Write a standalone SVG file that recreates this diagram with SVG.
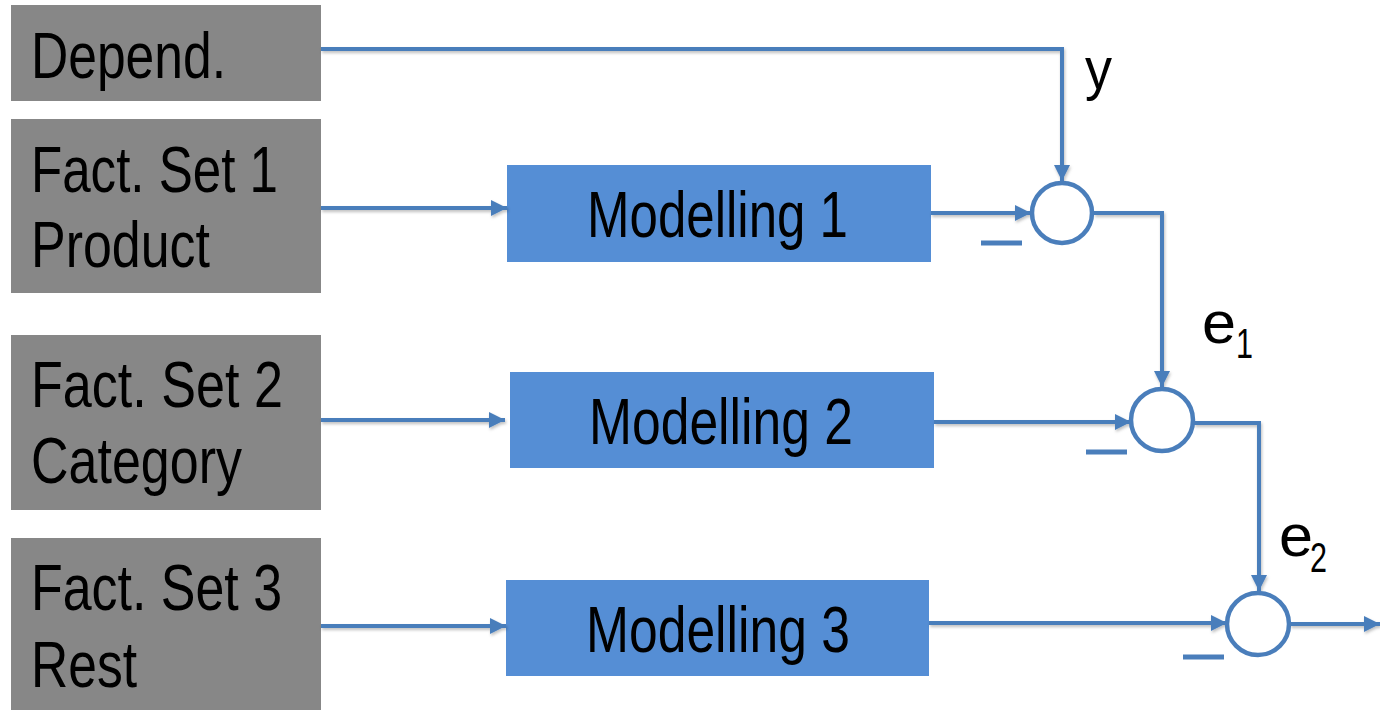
<svg xmlns="http://www.w3.org/2000/svg" width="1380" height="710" viewBox="0 0 1380 710">
<defs>
<style>
.gray{fill:#878787}
.blue{fill:#558ed5}
.t{font-family:"Liberation Sans",Arial,sans-serif;font-size:65px;fill:#000}
.lbl{font-family:"Liberation Sans",Arial,sans-serif;font-size:60px;fill:#000}
.sub{font-family:"Liberation Sans",Arial,sans-serif;font-size:42px;fill:#000}
.ln{fill:none;stroke:#4a7ebb;stroke-width:4}
.sum{fill:#fff;stroke:#4a7ebb;stroke-width:4.5}
.minus{stroke:#4a7ebb;stroke-width:5}
</style>
<marker id="ah" viewBox="0 0 10 10" refX="10" refY="5" markerWidth="4" markerHeight="4" markerUnits="strokeWidth" orient="auto">
<path d="M0,0 L10,5 L0,10 Z" fill="#4a7ebb"/>
</marker>
<filter id="sh" x="-5%" y="-5%" width="110%" height="120%">
<feDropShadow dx="1" dy="2" stdDeviation="1.5" flood-color="#000" flood-opacity="0.25"/>
</filter>
</defs>

<g id="node-depend"><rect class="gray" x="11" y="5" width="310" height="96"/><text class="t" x="31" y="78" textLength="195" lengthAdjust="spacingAndGlyphs">Depend.</text></g>
<g id="node-fact1"><rect class="gray" x="11" y="119" width="310" height="174"/><text class="t" x="31" y="192" textLength="247" lengthAdjust="spacingAndGlyphs">Fact. Set 1</text><text class="t" x="31" y="267" textLength="179" lengthAdjust="spacingAndGlyphs">Product</text></g>
<g id="node-fact2"><rect class="gray" x="11" y="335" width="310" height="175"/><text class="t" x="31" y="407" textLength="252" lengthAdjust="spacingAndGlyphs">Fact. Set 2</text><text class="t" x="31" y="483" textLength="211" lengthAdjust="spacingAndGlyphs">Category</text></g>
<g id="node-fact3"><rect class="gray" x="11" y="538" width="310" height="172"/><text class="t" x="31" y="610" textLength="251" lengthAdjust="spacingAndGlyphs">Fact. Set 3</text><text class="t" x="31" y="687" textLength="106" lengthAdjust="spacingAndGlyphs">Rest</text></g>

<g id="node-model1"><rect class="blue" x="507" y="165" width="424" height="97"/><text class="t" x="587" y="237" textLength="261" lengthAdjust="spacingAndGlyphs">Modelling 1</text></g>
<g id="node-model2"><rect class="blue" x="510" y="372" width="424" height="96"/><text class="t" x="589" y="444" textLength="264" lengthAdjust="spacingAndGlyphs">Modelling 2</text></g>
<g id="node-model3"><rect class="blue" x="506" y="580" width="423" height="96"/><text class="t" x="586" y="652" textLength="264" lengthAdjust="spacingAndGlyphs">Modelling 3</text></g>

<g id="connectors" filter="url(#sh)">
<path class="ln" d="M321,49 L1062,49 L1062,181" marker-end="url(#ah)"/>
<path class="ln" d="M321,208 L507,208" marker-end="url(#ah)"/>
<path class="ln" d="M931,213 L1031,213" marker-end="url(#ah)"/>
<path class="ln" d="M1094,213 L1162,213 L1162,387" marker-end="url(#ah)"/>
<path class="ln" d="M321,420 L505,420" marker-end="url(#ah)"/>
<path class="ln" d="M934,422 L1131,422" marker-end="url(#ah)"/>
<path class="ln" d="M1194,423 L1259,423 L1259,591" marker-end="url(#ah)"/>
<path class="ln" d="M321,626 L506,626" marker-end="url(#ah)"/>
<path class="ln" d="M929,623 L1227,623" marker-end="url(#ah)"/>
<path class="ln" d="M1290,624 L1380,624" marker-end="url(#ah)"/>
</g>

<g id="node-sum1"><circle class="sum" cx="1062" cy="213" r="30"/><line class="minus" x1="981" y1="243" x2="1022" y2="243"/></g>
<g id="node-sum2"><circle class="sum" cx="1162" cy="420" r="31"/><line class="minus" x1="1086" y1="452" x2="1127" y2="452"/></g>
<g id="node-sum3"><circle class="sum" cx="1258" cy="624" r="31"/><line class="minus" x1="1183" y1="657" x2="1224" y2="657"/></g>

<g id="labels">
<text class="lbl" x="1085" y="89" textLength="27" lengthAdjust="spacingAndGlyphs">y</text>
<text class="lbl" x="1202" y="343" textLength="34" lengthAdjust="spacingAndGlyphs">e</text>
<text class="sub" x="1236" y="358" textLength="17" lengthAdjust="spacingAndGlyphs">1</text>
<text class="lbl" x="1279" y="556" textLength="34" lengthAdjust="spacingAndGlyphs">e</text>
<text class="sub" x="1310" y="572" textLength="17" lengthAdjust="spacingAndGlyphs">2</text>
</g>
</svg>
